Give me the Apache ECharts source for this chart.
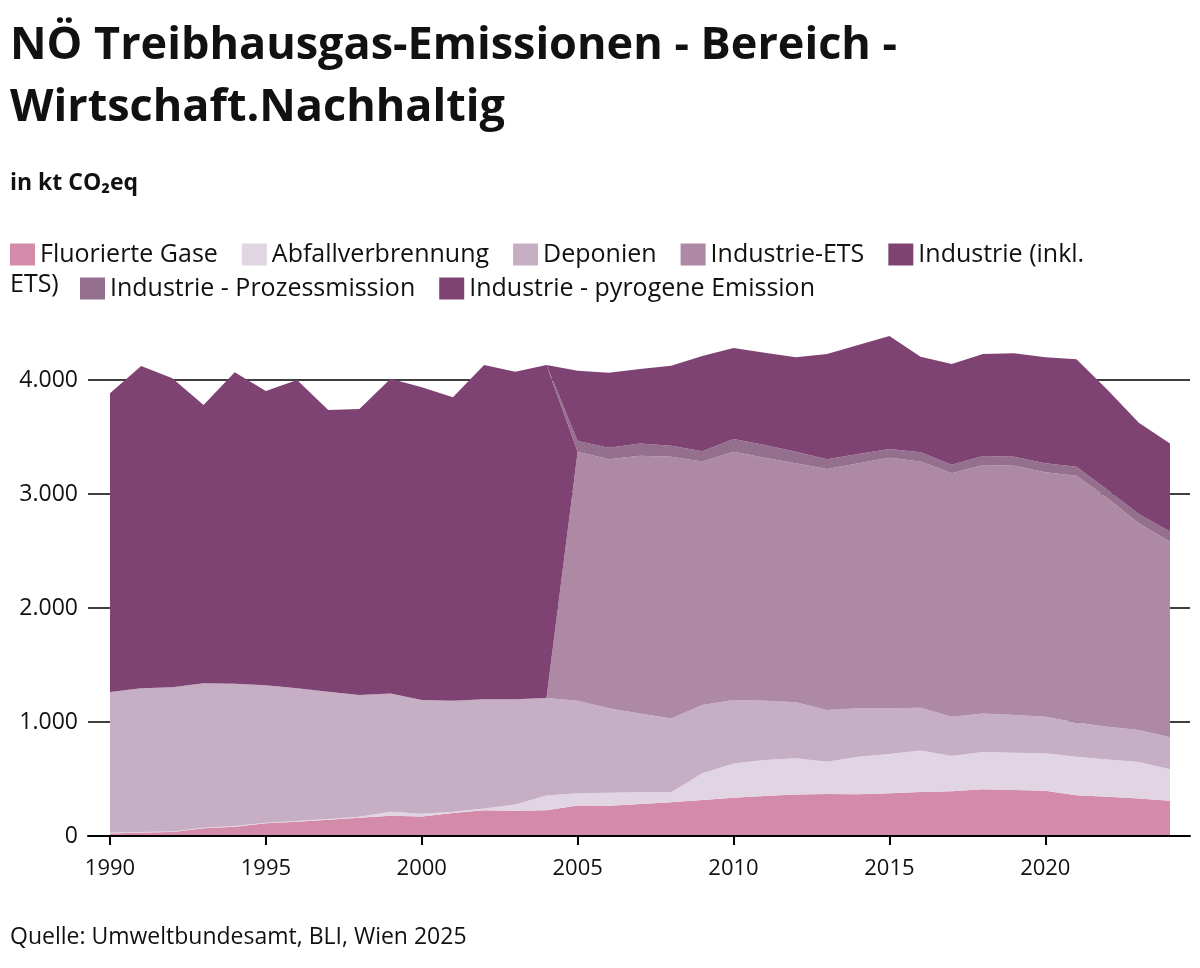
<!DOCTYPE html>
<html>
<head>
<meta charset="utf-8">
<title>NÖ Treibhausgas-Emissionen - Bereich - Wirtschaft.Nachhaltig</title>
<script src="https://cdn.jsdelivr.net/npm/echarts@6/dist/echarts.min.js"></script>
<style>
  html, body { margin: 0; padding: 0; background: #fff; }
  #chart { width: 1200px; height: 968px; }
</style>
</head>
<body>
<div id="chart"></div>
<script>
// Jahre
var years = ['1990', '1991', '1992', '1993', '1994', '1995', '1996', '1997', '1998', '1999',
             '2000', '2001', '2002', '2003', '2004', '2005', '2006', '2007', '2008', '2009',
             '2010', '2011', '2012', '2013', '2014', '2015', '2016', '2017', '2018', '2019',
             '2020', '2021', '2022', '2023', '2024'];

// Werte in kt CO2eq
var fluorierteGase = [23, 30, 35, 67, 82, 111, 125, 143, 161, 178,
                      172, 202, 225, 222, 226, 268, 266, 281, 295, 316,
                      336, 351, 363, 368, 367, 374, 386, 392, 409, 404,
                      398, 357, 345, 330, 310];
var abfallverbrennung = [5, 6, 5, 5, 6, 6, 6, 6, 7, 35,
                         23, 10, 17, 55, 129, 106, 114, 102, 88, 234,
                         301, 316, 318, 284, 328, 345, 363, 310, 328, 327,
                         327, 338, 327, 319, 275];
var deponien = [1235, 1259, 1264, 1267, 1248, 1205, 1164, 1117, 1069, 1036,
                998, 975, 957, 922, 856, 813, 740, 692, 648, 599,
                556, 520, 492, 453, 425, 401, 377, 344, 338, 330,
                321, 301, 287, 281, 281];
var industrieEts = [0, 0, 0, 0, 0, 0, 0, 0, 0, 0,
                    0, 0, 0, 0, 0, 2184, 2184, 2261, 2296, 2135,
                    2178, 2132, 2096, 2114, 2149, 2199, 2158, 2135, 2179, 2187,
                    2144, 2165, 2003, 1813, 1716];
var industrieInkl = [2620, 2828, 2711, 2442, 2731, 2582, 2705, 2471, 2509, 2763,
                     2743, 2661, 2932, 2874, 2920, 0, 0, 0, 0, 0,
                     0, 0, 0, 0, 0, 0, 0, 0, 0, 0,
                     0, 0, 0, 0, 0];
var prozess = [0, 0, 0, 0, 0, 0, 0, 0, 0, 0,
               0, 0, 0, 0, 0, 94, 102, 108, 97, 90,
               111, 111, 102, 85, 82, 76, 82, 76, 79, 79,
               79, 79, 73, 82, 88];
var pyrogen = [0, 0, 0, 0, 0, 0, 0, 0, 0, 0,
               0, 0, 0, 0, 0, 617, 658, 652, 702, 837,
               799, 810, 828, 924, 956, 991, 839, 883, 895, 907,
               930, 941, 877, 801, 774];

// Achsenbeschriftung
var yTicks = [0, 1000, 2000, 3000, 4000];
var yMax = 4500;

var FONT = '"Open Sans", "Noto Sans", sans-serif';
var TEXT = '#111111';

var seriesDef = [
    { name: 'Fluorierte Gase', data: fluorierteGase, color: '#d38ba9' },
    { name: 'Abfallverbrennung', data: abfallverbrennung, color: '#e1d5e3' },
    { name: 'Deponien', data: deponien, color: '#c6aec4' },
    { name: 'Industrie-ETS', data: industrieEts, color: '#ad89a4' },
    { name: 'Industrie (inkl. ETS)', data: industrieInkl, color: '#7f4373' },
    { name: 'Industrie - Prozessmission', data: prozess, color: '#946f8e' },
    { name: 'Industrie - pyrogene Emission', data: pyrogen, color: '#7f4373' }
];

var chart = echarts.init(document.getElementById('chart'));

var legendText = { fontFamily: FONT, fontSize: 25, color: TEXT };
var everyFifth = function (index) { return index % 5 === 0; };

var option = {
    backgroundColor: '#ffffff',
    animation: false,
    textStyle: { fontFamily: FONT },
    title: [{
        text: 'NÖ Treibhausgas-Emissionen - Bereich -\nWirtschaft.Nachhaltig',
        left: 10,
        top: 15,
        padding: 0,
        textStyle: { fontFamily: FONT, fontSize: 45, fontWeight: 'bold', color: TEXT, lineHeight: 62 }
    }, {
        text: 'in kt CO₂eq',
        left: 10,
        top: 172,
        padding: 0,
        textStyle: { fontFamily: FONT, fontSize: 23, fontWeight: 'bold', color: TEXT }
    }],
    // Legende in zwei Teilen, damit "ETS)" wie im Original umbricht
    legend: [{
        left: 10,
        top: 242,
        padding: 0,
        itemWidth: 25,
        itemHeight: 22,
        itemGap: 24,
        icon: 'rect',
        selectedMode: false,
        data: seriesDef.slice(0, 5).map(function (s) { return s.name; }),
        formatter: function (name) {
            return name === 'Industrie (inkl. ETS)' ? 'Industrie (inkl.' : name;
        },
        textStyle: legendText
    }, {
        left: 80,
        top: 276,
        padding: 0,
        itemWidth: 25,
        itemHeight: 22,
        itemGap: 24,
        icon: 'rect',
        selectedMode: false,
        data: seriesDef.slice(5).map(function (s) { return s.name; }),
        textStyle: legendText
    }],
    graphic: [{
        type: 'text',
        left: 10,
        top: 272,
        style: { text: 'ETS)', font: '25px ' + FONT, fill: TEXT }
    }, {
        type: 'text',
        left: 10,
        top: 926,
        style: { text: 'Quelle: Umweltbundesamt, BLI, Wien 2025', font: '23px ' + FONT, fill: TEXT }
    }],
    // grid 0: Daten (1990 bis 2024), grid 1: Rahmen mit Gitterlinien
    grid: [
        { left: 110, right: 30, top: 323, bottom: 132 },
        { left: 88, right: 10, top: 323, bottom: 132 }
    ],
    xAxis: [{
        type: 'category',
        gridIndex: 0,
        data: years,
        boundaryGap: false,
        z: 6,
        axisLine: { show: false },
        axisTick: {
            show: true,
            alignWithLabel: true,
            interval: everyFifth,
            length: 9,
            lineStyle: { color: '#000', width: 2 }
        },
        axisLabel: {
            interval: everyFifth,
            margin: 22,
            fontFamily: FONT,
            fontSize: 22,
            color: TEXT
        },
        splitLine: { show: false }
    }, {
        type: 'value',
        gridIndex: 1,
        min: 0,
        max: 1,
        z: 5,
        axisLine: { show: true, lineStyle: { color: '#000', width: 2 } },
        axisTick: { show: false },
        axisLabel: { show: false },
        splitLine: { show: false }
    }],
    yAxis: [{
        type: 'value',
        gridIndex: 0,
        min: 0,
        max: yMax,
        axisLine: { show: false },
        axisTick: { show: false },
        axisLabel: { show: false },
        splitLine: { show: false }
    }, {
        type: 'value',
        gridIndex: 1,
        min: 0,
        max: yMax,
        axisLine: { show: false },
        axisTick: { show: false, customValues: yTicks },
        axisLabel: {
            customValues: yTicks,
            margin: 10,
            fontFamily: FONT,
            fontSize: 23,
            color: TEXT,
            formatter: function (v) {
                return v.toString().replace(/\B(?=(\d{3})+(?!\d))/g, '.');
            }
        },
        splitLine: { show: true, lineStyle: { color: '#000', width: 1.5 } }
    }],
    series: seriesDef.map(function (s) {
        return {
            name: s.name,
            type: 'line',
            xAxisIndex: 0,
            yAxisIndex: 0,
            stack: 'gesamt',
            data: s.data,
            color: s.color,
            showSymbol: false,
            symbol: 'none',
            lineStyle: { width: 0 },
            areaStyle: { color: s.color, opacity: 1 },
            emphasis: { disabled: true }
        };
    })
};

chart.setOption(option);
</script>
</body>
</html>
